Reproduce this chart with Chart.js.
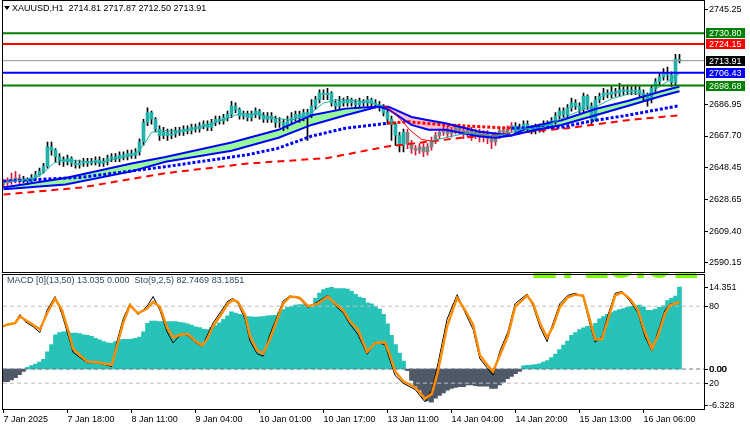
<!DOCTYPE html>
<html>
<head>
<meta charset="utf-8">
<script src="https://cdn.jsdelivr.net/npm/chart.js@4.4.1/dist/chart.umd.min.js"></script>
<style>
  html, body { margin: 0; padding: 0; background: #fff; }
  #wrap { position: relative; width: 750px; height: 430px; overflow: hidden; }
  #c1 { position: absolute; left: 0; top: 0; }
  #c2 { position: absolute; left: 0; top: 273px; }
</style>
</head>
<body>
<div id="wrap">
  <canvas id="c1" width="750" height="273"></canvas>
  <canvas id="c2" width="750" height="157"></canvas>
</div>
<script>
// ---- price bars (H1), index 0 = 7 Jan 2025 01:00 ----
const firstOpen = 2638.0;
const closes = [
  2639, 2640, 2641, 2642, 2640, 2641, 2640, 2642, 2644, 2646,
  2649, 2661, 2659, 2655, 2653, 2652, 2654, 2651, 2650, 2651,
  2652, 2651, 2652, 2653, 2651, 2652, 2654, 2655, 2654, 2656,
  2655, 2657, 2656, 2658, 2664, 2676, 2682, 2678, 2672, 2668,
  2670, 2668, 2669, 2671, 2670, 2672, 2671, 2673, 2672, 2674,
  2675, 2673, 2676, 2678, 2677, 2679, 2681, 2686, 2684, 2680,
  2681, 2679, 2681, 2683, 2680, 2678, 2680, 2678, 2676, 2676,
  2674, 2677, 2679, 2681, 2679, 2682, 2680, 2686, 2690, 2694,
  2693, 2694, 2688, 2686, 2689, 2688, 2690, 2688, 2687, 2689,
  2688, 2690, 2688, 2687, 2685, 2682, 2678, 2675, 2668, 2662,
  2670, 2663, 2660, 2659, 2661, 2658, 2661, 2665, 2668, 2670,
  2672, 2669, 2671, 2673, 2671, 2669, 2671, 2668, 2670, 2667,
  2669, 2666, 2664, 2668, 2671, 2670, 2672, 2674, 2671, 2673,
  2675, 2672, 2671, 2673, 2672, 2675, 2674, 2677, 2680, 2683,
  2681, 2685, 2688, 2686, 2684, 2692, 2686, 2678, 2690, 2692,
  2694, 2693, 2695, 2694, 2696, 2695, 2696, 2695, 2696, 2694,
  2692, 2690, 2697, 2701, 2704, 2706, 2705, 2700.5, 2714.81, 2713.91
];
const highs = [
  2641, 2642, 2645, 2646, 2644, 2643, 2642, 2644, 2646, 2648,
  2651, 2664, 2664, 2660, 2657, 2655, 2656, 2655, 2653, 2653,
  2654, 2654, 2654, 2655, 2655, 2654, 2656, 2657, 2657, 2658,
  2658, 2659, 2659, 2660, 2666, 2678, 2685, 2683, 2679, 2674,
  2673, 2672, 2672, 2673, 2673, 2674, 2674, 2675, 2675, 2676,
  2677, 2677, 2678, 2680, 2680, 2681, 2683, 2689, 2688, 2685,
  2683, 2683, 2683, 2685, 2684, 2682, 2682, 2682, 2680, 2679,
  2678, 2680, 2682, 2683, 2683, 2684, 2684, 2690, 2692, 2696,
  2696, 2697, 2695, 2690, 2692, 2691, 2692, 2691, 2690, 2691,
  2690, 2692, 2691, 2690, 2689, 2687, 2684, 2680, 2676, 2670,
  2672, 2672, 2665, 2662, 2663, 2663, 2663, 2667, 2670, 2672,
  2674, 2674, 2673, 2675, 2675, 2673, 2673, 2673, 2672, 2672,
  2671, 2671, 2668, 2670, 2673, 2673, 2674, 2676, 2676, 2675,
  2677, 2677, 2674, 2675, 2675, 2677, 2677, 2679, 2682, 2685,
  2685, 2687, 2691, 2690, 2688, 2694, 2693, 2688, 2692, 2694,
  2697, 2696, 2698, 2697, 2700, 2698, 2699, 2698, 2699, 2698,
  2696, 2694, 2699, 2703, 2706, 2709, 2710, 2707, 2717.8, 2717.87
];
const lows = [
  2636, 2637, 2638, 2639, 2638, 2639, 2638, 2639, 2641, 2643,
  2645, 2648, 2656, 2652, 2650, 2649, 2650, 2649, 2648, 2648,
  2649, 2649, 2650, 2650, 2649, 2649, 2650, 2652, 2652, 2652,
  2653, 2653, 2654, 2654, 2656, 2662, 2674, 2675, 2670, 2665,
  2666, 2665, 2666, 2667, 2668, 2668, 2669, 2669, 2670, 2670,
  2672, 2671, 2671, 2674, 2675, 2675, 2677, 2679, 2682, 2678,
  2678, 2677, 2677, 2679, 2678, 2676, 2676, 2676, 2673, 2673,
  2671, 2672, 2675, 2677, 2676, 2677, 2665, 2679, 2684, 2688,
  2690, 2690, 2686, 2684, 2684, 2686, 2686, 2686, 2685, 2685,
  2686, 2686, 2686, 2685, 2683, 2680, 2675, 2665, 2662, 2658,
  2658, 2660, 2657, 2656, 2657, 2655, 2656, 2659, 2663, 2666,
  2668, 2667, 2667, 2669, 2669, 2666, 2667, 2665, 2666, 2664,
  2664, 2663, 2660, 2662, 2666, 2668, 2668, 2670, 2669, 2669,
  2671, 2670, 2669, 2669, 2670, 2670, 2672, 2672, 2675, 2678,
  2679, 2679, 2683, 2684, 2682, 2682, 2684, 2675, 2677, 2688,
  2690, 2691, 2691, 2692, 2692, 2693, 2693, 2693, 2693, 2692,
  2689, 2686, 2688, 2695, 2699, 2702, 2702, 2698, 2699, 2712.50
];
// bars drawn grey (below the trend line)
const greyRanges = [[0, 4], [101, 127]];

// ---- indicator lines on the price panel (bar index, price) ----
const ribbonX    = [0, 15.5, 32, 40.5, 57, 68.75, 77, 85.5, 93.75, 96.25, 102, 106.25, 110.5, 118.75, 123, 127, 131.25, 139.5, 148, 156.25, 164.5, 169];
const ribbonFast = [2636.1, 2642.0, 2650.8, 2654.8, 2663.7, 2671.5, 2680.4, 2684.5, 2685.8, 2684.0, 2674.5, 2671.5, 2671.5, 2667.6, 2666.6, 2668.0, 2673.1, 2677.4, 2684.3, 2689.3, 2695.2, 2698.1];
const ribbonSlow = [2635.1, 2638.0, 2646.0, 2651.9, 2658.7, 2666.6, 2674.5, 2680.4, 2685.8, 2685.7, 2679.4, 2677.4, 2675.5, 2670.5, 2669.2, 2668.0, 2670.5, 2674.5, 2680.4, 2686.3, 2692.2, 2695.2];

const dotX    = [0, 19.5, 40.5, 61, 68.5, 77, 85.5, 96, 101, 110.5, 118.75, 127, 139.5, 148, 156, 164.5, 169];
const dotY    = [2640.0, 2642.4, 2648.9, 2656.2, 2660.1, 2667.6, 2672.5, 2675.5, 2676.4, 2674.5, 2673.5, 2672.5, 2673.1, 2677.4, 2680.4, 2684.3, 2686.3];
const dotDown = [0, 0, 0, 0, 0, 0, 0, 1, 1, 1, 1, 0, 0, 0, 0, 0, 0];

const longX = [0, 19.5, 40.5, 61, 81, 96, 114.5, 141, 156, 164.5, 169];
const longY = [2631.8, 2636.1, 2644.9, 2650.8, 2654.2, 2661.3, 2666.6, 2672.5, 2677.4, 2679.4, 2680.4];

const fastX = [0, 4, 8, 10, 12.5, 15, 18, 24, 30, 33, 35, 37, 40, 44, 50, 56, 59, 64, 68, 72, 76, 80, 84, 90, 95, 96, 99, 102, 104.5, 107, 111, 116, 121, 125, 130, 135, 140, 145, 148, 152, 157, 161, 164, 169];
const fastY = [2639, 2640.5, 2642, 2645, 2651, 2653, 2652.5, 2651.5, 2654.5, 2656.5, 2662, 2670, 2671, 2670.5, 2673.5, 2678.5, 2681.5, 2681, 2678.5, 2677.5, 2680, 2688, 2690, 2689, 2686, 2685.3, 2678.4, 2670.5, 2665.6, 2664.6, 2667, 2669.5, 2668, 2668.5, 2672, 2673, 2679, 2684, 2685.5, 2690.5, 2694, 2693, 2698, 2706];
const fastDown = [0,0,0,0,0,0,0,0,0,0,0,0,0,0,0,0,0,0,0,0,0,0,0,0,1,1,1,1,1,0,0,0,0,0,0,0,0,0,0,0,0,0,0,0];

// horizontal levels
const levelValues = [2730.80, 2724.15, 2713.91, 2706.43, 2698.68];
const priceTicks = [2745.25, 2686.95, 2667.70, 2648.45, 2628.65, 2609.40, 2590.15];

// ---- lower panel ----
const macdHist = [
  -2.2, -2.2, -1.9, -1.5, -1.0, -0.4, 0.3, 0.6, 0.85, 1.2,
  1.7, 3.0, 4.3, 6.0, 6.4, 6.5, 6.6, 6.3, 6.3, 6.2,
  6.0, 5.9, 5.75, 5.4, 5.1, 4.8, 4.6, 4.5, 4.8, 5.1,
  5.2, 5.2, 5.25, 5.4, 5.6, 6.5, 8.0, 8.4, 8.4, 8.3,
  8.3, 8.3, 8.3, 8.3, 8.2, 8.1, 7.9, 7.7, 7.4, 7.25,
  7.0, 6.9, 7.3, 7.6, 8.1, 8.7, 9.3, 10.0, 9.8, 9.6,
  9.3, 9.2, 9.15, 9.1, 9.15, 9.2, 9.3, 9.35, 9.4, 9.9,
  10.4, 10.8, 11.0, 11.2, 11.3, 11.3, 11.2, 10.8, 12.4, 13.3,
  13.9, 14.2, 14.3, 14.1, 14.1, 14.1, 14.0, 13.6, 13.1, 12.6,
  12.4, 11.6, 11.4, 11.0, 10.5, 9.6, 7.9, 5.9, 4.3, 2.8,
  1.4, -0.3, -2.0, -3.0, -3.7, -5.1, -5.6, -5.8, -5.1, -4.6,
  -4.2, -3.7, -3.4, -3.2, -3.1, -3.1, -2.8, -2.8, -2.9, -3.0,
  -3.0, -3.0, -3.4, -3.4, -2.8, -2.3, -1.7, -1.3, -0.8, -0.4,
  0.56, 0.65, 0.7, 0.8, 0.9, 1.2, 1.5, 2.0, 2.6, 3.4,
  4.2, 4.9, 5.9, 6.4, 6.9, 7.2, 7.5, 7.0, 8.0, 8.8,
  9.2, 9.6, 9.9, 10.2, 10.4, 10.6, 10.8, 11.0, 11.1, 11.2,
  10.9, 10.3, 10.3, 10.5, 10.8, 11.1, 12.0, 12.4, 12.8, 14.35
];
const stochX = [
  -0.1, 0.9, 2.9, 4.1, 5.4, 7.4, 9.1, 10.9, 12.9, 14.6,
  16.1, 17.4, 19.1, 20.9, 23.4, 25.9, 27.1, 28.4, 29.9, 31.6,
  33.6, 35.9, 37.4, 39.1, 40.9, 42.4, 44.6, 46.1, 47.9, 49.6,
  50.9, 52.4, 54.6, 56.1, 57.4, 58.6, 60.4, 61.6, 63.4, 64.9,
  66.6, 68.4, 69.9, 71.6, 73.4, 74.1, 76.1, 78.6, 81.1, 83.4,
  84.9, 86.6, 88.6, 90.9, 92.9, 95.4, 96.6, 97.9, 99.9, 102.9,
  105.4, 107.1, 108.6, 110.9, 113.4, 115.4, 117.4, 119.1, 120.9, 122.4,
  124.1, 126.1, 127.9, 130.9, 132.4, 134.1, 135.9, 137.4, 139.1, 141.1,
  142.9, 144.9, 146.6, 147.9, 149.6, 151.1, 152.9, 154.6, 156.6, 158.6,
  160.4, 162.1, 163.6, 165.4, 166.6, 169
];
const stochSignal = [
  64.4, 65.6, 66.9, 72, 69.4, 65.6, 61.9, 74.5, 85.8, 77,
  61.9, 46.8, 41.8, 36.8, 36.3, 34.7, 34.3, 49.4, 66.9, 80.7,
  74.5, 78.2, 83.3, 79.5, 63.2, 55.6, 58.1, 58.1, 53.1, 49.4,
  54.3, 64.4, 74.5, 82, 85, 83.3, 73.2, 56.9, 45.6, 43.1,
  54.3, 69.4, 82, 87.5, 87, 86.5, 80, 82, 87.5, 80.7,
  77, 68.2, 61.9, 44.3, 51.3, 51.9, 41.8, 29.2, 21.7, 16.7,
  7.9, 11.7, 29.2, 64.4, 86.5, 77, 65.6, 41.8, 34.3, 29.2,
  41.8, 56.9, 79.5, 88.3, 82, 66.9, 55.6, 64.4, 79.5, 87,
  89, 88.3, 69.4, 54.3, 54.3, 69.4, 88.3, 90.8, 85.8, 77,
  59.4, 46.8, 56.9, 74.5, 80.7, 83.19
];
const stochMain = [
  64, 66, 67, 73.5, 68, 64, 59.5, 77, 87.5, 74,
  58, 44, 40, 36, 36, 34, 33, 53, 70, 82,
  73.5, 80, 87.5, 77, 60, 51.3, 59, 57, 52, 48.5,
  57, 67, 77, 84, 86, 82, 70, 53, 43, 41,
  58, 72, 84, 88, 86.5, 85.5, 79, 83.5, 88.5, 79,
  75, 66, 58, 42.5, 52, 50, 38, 26, 20, 15,
  5.4, 15, 35, 70, 89, 75, 62, 39, 32, 26.2,
  45, 60, 82, 89.5, 80, 64, 52.4, 67, 82, 88.5,
  90, 87.5, 66, 52, 56, 73, 90, 91.5, 84, 75,
  56, 45, 60, 77, 81.5, 82.75
];
const stochLevels = [80, 20];
const macdTicks = [14.351, 0, -6.328];
const macdTickLabels = ['14.351', '0.00', '-6.328'];

const labelBars = [0, 16, 32, 48, 64, 80, 96, 112, 128, 144, 160];
const timeLabels = ['7 Jan 2025', '7 Jan 18:00', '8 Jan 11:00', '9 Jan 04:00', '10 Jan 01:00', '10 Jan 17:00',
  '13 Jan 11:00', '14 Jan 04:00', '14 Jan 20:00', '15 Jan 13:00', '16 Jan 06:00'];

const titleText = 'XAUUSD,H1  2714.81 2717.87 2712.50 2713.91';
const subText = 'MACD [0](13,50) 13.035 0.000  Sto(9,2,5) 82.7469 83.1851';
const bigPrice = '2713.91';

// ---- styling ----
const FONT = "'Liberation Sans', Arial, sans-serif";
const levelLineColors = ['#008000', '#FF0000', '#909090', '#0000FF', '#008000'];
const levelLineWidths = [2, 2, 1, 2, 2];
const levelBoxColors = ['#008000', '#FF0000', '#000000', '#0000FF', '#008000'];
const X_MIN = -0.125, X_MAX = 175.125;

Chart.defaults.font.family = FONT;
Chart.defaults.font.size = 9;
Chart.defaults.color = '#000';

function pts(xs, ys) {
  return xs.map((x, i) => ({ x, y: ys[i] }));
}
function isGrey(i) {
  return greyRanges.some(([a, b]) => i >= a && i <= b);
}

const opens = closes.map((c, i) => (i === 0 ? firstOpen : closes[i - 1]));
const bodies = closes.map((c, i) => ({ x: i, y: [opens[i], c] }));
const wicks = closes.map((c, i) => ({ x: i, y: [lows[i], highs[i]] }));

// frame + texts on the price panel
const topDecor = {
  id: 'topDecor',
  afterDraw(chart) {
    const { ctx, chartArea } = chart;
    const y = chart.scales.y;
    ctx.save();
    ctx.strokeStyle = '#000';
    ctx.lineWidth = 1;
    ctx.strokeRect(2.5, 0.5, chartArea.right - 2, 272);
    // price boxes on the axis
    ctx.font = '9px ' + FONT;
    ctx.textBaseline = 'middle';
    levelValues.forEach((v, k) => {
      const py = Math.round(y.getPixelForValue(v));
      ctx.fillStyle = levelBoxColors[k];
      ctx.fillRect(chartArea.right + 2, py - 5, 39, 10);
      ctx.fillStyle = '#fff';
      ctx.fillText(v.toFixed(2), chartArea.right + 5, py + 0.5);
    });
    // title
    ctx.fillStyle = '#000';
    ctx.beginPath();
    ctx.moveTo(4, 6); ctx.lineTo(10, 6); ctx.lineTo(7, 10); ctx.closePath();
    ctx.fill();
    ctx.fillText(titleText, 12, 9);
    ctx.restore();
  }
};

new Chart(document.getElementById('c1'), {
  type: 'bar',
  data: {
    datasets: [
      ...levelValues.map((v, k) => ({
        type: 'line', data: [{ x: X_MIN, y: v }, { x: X_MAX, y: v }],
        borderColor: levelLineColors[k], borderWidth: levelLineWidths[k],
        pointRadius: 0, order: 1
      })),
      {
        type: 'line', data: pts(fastX, fastY), borderWidth: 1, pointRadius: 0, order: 2,
        borderColor: '#20B2AA',
        segment: { borderColor: c => (fastDown[c.p0DataIndex] ? '#FF0000' : '#20B2AA') }
      },
      {
        type: 'line', data: pts(ribbonX, ribbonFast), borderColor: '#0000FF', borderWidth: 2,
        pointRadius: 0, order: 3,
        fill: { target: '+1', above: '#98FB98', below: '#FFC0CB' }
      },
      {
        type: 'line', data: pts(ribbonX, ribbonSlow), borderColor: '#0000FF', borderWidth: 2,
        pointRadius: 0, order: 3
      },
      {
        type: 'line', data: pts(dotX, dotY), borderWidth: 3, pointRadius: 0, order: 4,
        borderDash: [3, 2], borderColor: '#0000FF',
        segment: { borderColor: c => (dotDown[c.p0DataIndex] ? '#FF0000' : '#0000FF') }
      },
      {
        type: 'line', data: pts(longX, longY), borderWidth: 2, pointRadius: 0, order: 5,
        borderDash: [7, 5], borderColor: '#FF0000'
      },
      {
        data: bodies, barThickness: 3, minBarLength: 1, grouped: false, order: 9,
        backgroundColor: bodies.map((b, i) => (isGrey(i) ? '#808080' : '#20B2AA'))
      },
      {
        data: wicks, barThickness: 1, grouped: false, order: 10,
        backgroundColor: wicks.map((b, i) => (isGrey(i) ? '#DC143C' : '#000000'))
      }
    ]
  },
  options: {
    responsive: false, animation: false,
    layout: { padding: { left: 3, top: 2, right: 0, bottom: 1 } },
    plugins: { legend: { display: false }, tooltip: { enabled: false }, filler: { drawTime: 'beforeDatasetsDraw' } },
    scales: {
      x: { type: 'linear', offset: false, min: X_MIN, max: X_MAX, display: false },
      y: {
        position: 'right', min: 2587.6, max: 2747.2,
        afterBuildTicks: s => { s.ticks = priceTicks.map(v => ({ value: v })); },
        afterFit: s => { s.width = 46; },
        grid: { drawOnChartArea: false, drawTicks: true, tickLength: 4, color: '#000' },
        border: { display: false },
        ticks: { padding: 1, callback: v => v.toFixed(2) }
      }
    }
  },
  plugins: [topDecor]
});

// frame + texts on the indicator panel
const botDecor = {
  id: 'botDecor',
  beforeDatasetsDraw(chart) {
    const { ctx, chartArea } = chart;
    ctx.save();
    ctx.beginPath();
    ctx.rect(chartArea.left, 0, chartArea.right - chartArea.left, chartArea.bottom);
    ctx.clip();
    ctx.fillStyle = '#7CFC00';
    ctx.font = 'bold 46px ' + FONT;
    ctx.textBaseline = 'alphabetic';
    ctx.fillText(bigPrice, 532, 5);
    ctx.restore();
  },
  afterDraw(chart) {
    const { ctx, chartArea } = chart;
    const yM = chart.scales.yM;
    ctx.save();
    ctx.strokeStyle = '#000';
    ctx.lineWidth = 1;
    ctx.strokeRect(2.5, 1.5, chartArea.right - 2, chartArea.bottom - 1);
    ctx.font = '9px ' + FONT;
    ctx.textBaseline = 'middle';
    ctx.fillStyle = '#000';
    macdTicks.forEach((v, k) => {
      const py = Math.round(yM.getPixelForValue(v)) + 0.5;
      ctx.beginPath();
      ctx.moveTo(chartArea.right, py); ctx.lineTo(chartArea.right + 4, py); ctx.stroke();
      ctx.fillText(macdTickLabels[k], chartArea.right + 5, py);
      if (v === 0) ctx.fillText(macdTickLabels[k], chartArea.right + 5.6, py);
    });
    ctx.fillStyle = '#2E4A62';
    ctx.fillText(subText, 7, 8);
    ctx.restore();
  }
};

new Chart(document.getElementById('c2'), {
  type: 'bar',
  data: {
    datasets: [
      {
        type: 'line', data: pts(stochX, stochSignal), yAxisID: 'yS', borderColor: '#FF8C00',
        borderWidth: 2.5, pointRadius: 0, order: 1
      },
      {
        type: 'line', data: pts(stochX, stochMain), yAxisID: 'yS', borderColor: '#000000',
        borderWidth: 1, pointRadius: 0, order: 2
      },
      ...stochLevels.map(v => ({
        type: 'line', data: [{ x: X_MIN, y: v }, { x: X_MAX, y: v }], yAxisID: 'yS',
        borderColor: '#BDBDBD', borderWidth: 1, borderDash: [4, 3], pointRadius: 0, order: 3
      })),
      {
        type: 'line', data: [{ x: X_MIN, y: 0 }, { x: X_MAX, y: 0 }], yAxisID: 'yM',
        borderColor: '#6B7686', borderWidth: 1, borderDash: [4, 3], pointRadius: 0, order: 3
      },
      {
        data: macdHist.map((v, i) => ({ x: i, y: v })), yAxisID: 'yM', barThickness: 4, grouped: false, order: 5,
        backgroundColor: macdHist.map(v => (v >= 0 ? '#26C2B8' : '#4E5866'))
      }
    ]
  },
  options: {
    responsive: false, animation: false,
    layout: { padding: { left: 3, top: 2, right: 0, bottom: 0 } },
    plugins: { legend: { display: false }, tooltip: { enabled: false } },
    scales: {
      x: {
        type: 'linear', offset: false, min: X_MIN, max: X_MAX,
        afterBuildTicks: s => { s.ticks = labelBars.map(v => ({ value: v })); },
        afterFit: s => { s.height = 21; },
        grid: { drawOnChartArea: false, drawTicks: true, tickLength: 4, color: '#000', offset: false },
        border: { display: false },
        ticks: {
          align: 'start', padding: 1, maxRotation: 0, autoSkip: false,
          callback: v => timeLabels[labelBars.indexOf(v)]
        }
      },
      yS: {
        position: 'right', min: -0.13, max: 100.9,
        afterBuildTicks: s => { s.ticks = stochLevels.map(v => ({ value: v })); },
        afterFit: s => { s.width = 46; },
        grid: { drawOnChartArea: false, drawTicks: true, tickLength: 4, color: '#000' },
        border: { display: false },
        ticks: { padding: 1, callback: v => String(v) }
      },
      yM: { display: false, min: -7.0, max: 15.7 }
    }
  },
  plugins: [botDecor]
});
</script>
</body>
</html>
